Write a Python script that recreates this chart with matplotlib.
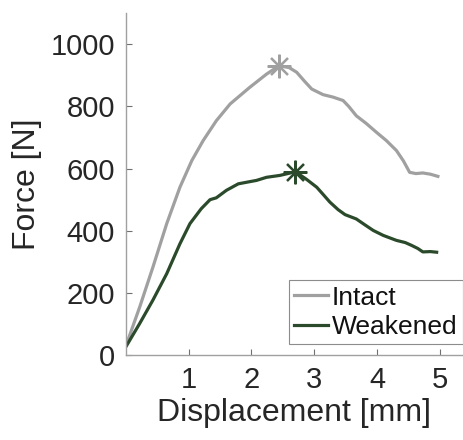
import numpy as np
import matplotlib
matplotlib.use("Agg")
import matplotlib.pyplot as plt

plt.rcParams['font.family'] = ['Liberation Sans', 'DejaVu Sans']

# Intact specimen
intact_x = [0.0, 0.22, 0.43, 0.65, 0.86, 1.05, 1.23, 1.44, 1.66, 1.97, 2.24, 2.44,
            2.60, 2.72, 2.85, 2.96, 3.14, 3.30, 3.46, 3.55, 3.67, 3.83, 3.99, 4.15,
            4.31, 4.42, 4.52, 4.62, 4.73, 4.85, 4.97]
intact_y = [30, 155, 283, 423, 540, 626, 690, 754, 808, 861, 904, 931,
            925, 910, 880, 856, 838, 830, 819, 800, 770, 745, 717, 690,
            658, 625, 588, 584, 586, 582, 575]

# Weakened specimen
weak_x = [0.0, 0.22, 0.43, 0.65, 0.86, 1.02, 1.20, 1.34, 1.44, 1.60, 1.79, 1.92,
          2.08, 2.24, 2.45, 2.60, 2.70, 2.88, 3.04, 3.15, 3.25, 3.38, 3.49, 3.67,
          3.80, 3.94, 4.10, 4.31, 4.45, 4.55, 4.65, 4.73, 4.85, 4.95]
weak_y = [27, 102, 177, 262, 358, 423, 471, 500, 506, 530, 551, 556,
          562, 572, 578, 585, 590, 565, 540, 515, 492, 468, 452, 438,
          420, 401, 385, 369, 362, 353, 343, 332, 333, 331]

peak_intact = (2.44, 931)
peak_weak = (2.70, 590)

c_intact = '#a0a0a0'
c_weak = '#2b4a2b'

fig = plt.figure(figsize=(4.63, 4.40), dpi=100)
ax = fig.add_axes([0.272, 0.193, 0.728, 0.777])

ax.plot(intact_x, intact_y, color=c_intact, lw=2.3, label='Intact')
ax.plot(weak_x, weak_y, color=c_weak, lw=2.3, label='Weakened')
ax.plot(*peak_intact, marker=(8, 2, 0), ms=17, mew=1.6, color=c_intact)
ax.plot(*peak_weak, marker=(8, 2, 0), ms=17, mew=1.6, color=c_weak)

ax.set_xlim(0, 5.37)
ax.set_ylim(0, 1100)
ax.set_xticks([1, 2, 3, 4, 5])
ax.set_yticks([0, 200, 400, 600, 800, 1000])

for s in ['top', 'right']:
    ax.spines[s].set_visible(False)
for s in ['left', 'bottom']:
    ax.spines[s].set_color('#a0a0a0')
    ax.spines[s].set_linewidth(1.0)

ax.tick_params(direction='in', length=4, color='#707070', labelsize=21, labelcolor='#262626', pad=8)
ax.set_xlabel('Displacement [mm]', fontsize=23, color='#262626', labelpad=3)
ax.set_ylabel('Force [N]', fontsize=23, color='#262626', labelpad=6)

leg = ax.legend(loc='lower right', bbox_to_anchor=(1.0, 0.032), fontsize=19, frameon=True, fancybox=False,
                handlelength=1.3, handletextpad=0.15, borderpad=0.2, labelspacing=0.2,
                borderaxespad=0)
leg.get_frame().set_edgecolor('#707070')
leg.get_frame().set_linewidth(0.8)
for t in leg.get_texts():
    t.set_color('#111111')

fig.savefig('out.png', dpi=100)
